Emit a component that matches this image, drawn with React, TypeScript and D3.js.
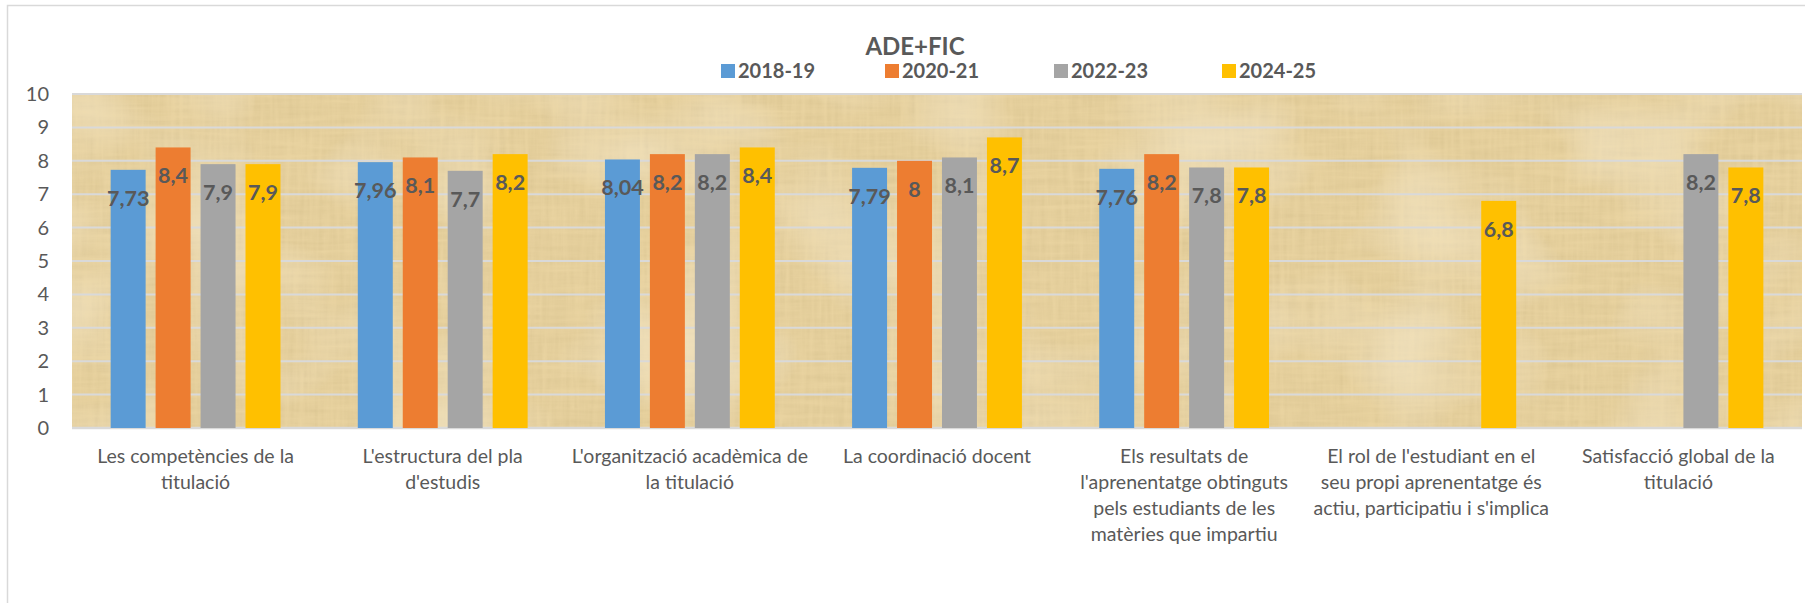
import React, { useRef, useEffect } from 'react';
import * as d3 from 'd3';

const categories = [
  "Les competències de la titulació",
  "L'estructura del pla d'estudis",
  "L'organització acadèmica de la titulació",
  "La coordinació docent",
  "Els resultats de l'aprenentatge obtinguts pels estudiants de les matèries que impartiu",
  "El rol de l'estudiant en el seu propi aprenentatge és actiu, participatiu i s'implica",
  "Satisfacció global de la titulació",
];
// how the labels wrap in the original
const categoryLines = [
  ["Les competències de la", "titulació"],
  ["L'estructura del pla", "d'estudis"],
  ["L'organització acadèmica de", "la titulació"],
  ["La coordinació docent"],
  ["Els resultats de", "l'aprenentatge obtinguts", "pels estudiants de les", "matèries que impartiu"],
  ["El rol de l'estudiant en el", "seu propi aprenentatge és", "actiu, participatiu i s'implica"],
  ["Satisfacció global de la", "titulació"],
];
const seriesNames = ['2018-19', '2020-21', '2022-23', '2024-25'];
const values1819 = [7.73, 7.96, 8.04, 7.79, 7.76, null, null];
const values2021 = [8.4, 8.1, 8.2, 8, 8.2, null, null];
const values2223 = [7.9, 7.7, 8.2, 8.1, 7.8, null, 8.2];
const values2425 = [7.9, 8.2, 8.4, 8.7, 7.8, 6.8, 7.8];
const seriesColors = ['#5B9BD5', '#ED7D31', '#A5A5A5', '#FFC000'];
const yTicks = [0, 1, 2, 3, 4, 5, 6, 7, 8, 9, 10];

const W = 1805;
const H = 603;
const FONT = 'Lato, "Open Sans", sans-serif';
const TXT = '#595959';

const ChartADEFIC = () => {
  const svgRef = useRef<SVGSVGElement>(null);

  useEffect(() => {
    const svg = d3.select(svgRef.current);
    svg.selectAll('*').remove();

    const left = 72, right = 1802, top = 94, bottom = 428;
    const allSeries = [values1819, values2021, values2223, values2425];

    // chart frame
    svg.append('rect')
      .attr('x', 7.5).attr('y', 5.5)
      .attr('width', W).attr('height', H + 20)
      .attr('fill', '#fff')
      .attr('stroke', '#d9d9d9')
      .attr('stroke-width', 1.5);

    // papyrus-ish texture for the plot area
    const defs = svg.append('defs');
    const f = defs.append('filter').attr('id', 'papyrus')
      .attr('x', 0).attr('y', 0).attr('width', 1).attr('height', 1);
    f.append('feTurbulence').attr('type', 'fractalNoise')
      .attr('baseFrequency', '0.2 0.015').attr('numOctaves', 3).attr('seed', 4).attr('result', 'n1');
    f.append('feTurbulence').attr('type', 'fractalNoise')
      .attr('baseFrequency', '0.015 0.2').attr('numOctaves', 3).attr('seed', 9).attr('result', 'n2');
    f.append('feBlend').attr('in', 'n1').attr('in2', 'n2').attr('mode', 'multiply').attr('result', 'n');
    f.append('feColorMatrix').attr('in', 'n').attr('type', 'matrix')
      .attr('values', '0 0 0 0 0.66  0 0 0 0 0.52  0 0 0 0 0.26  1.0 0 0 0 -0.2')
      .attr('result', 'c');
    f.append('feTurbulence').attr('type', 'fractalNoise')
      .attr('baseFrequency', '0.008 0.01').attr('numOctaves', 2).attr('seed', 2).attr('result', 'b');
    f.append('feColorMatrix').attr('in', 'b').attr('type', 'matrix')
      .attr('values', '0 0 0 0 1  0 0 0 0 0.95  0 0 0 0 0.82  0 0 0 -0.8 0.45')
      .attr('result', 'light');
    f.append('feMerge').call(m => {
      m.append('feMergeNode').attr('in', 'c');
      m.append('feMergeNode').attr('in', 'light');
    });

    svg.append('rect')
      .attr('x', left).attr('y', top)
      .attr('width', right - left).attr('height', bottom - top)
      .attr('fill', '#e9d3a0');
    svg.append('rect')
      .attr('x', left).attr('y', top)
      .attr('width', right - left).attr('height', bottom - top)
      .attr('fill', '#e9d3a0')
      .attr('filter', 'url(#papyrus)');

    const x0 = d3.scaleBand<string>().domain(categories).range([left, right]);
    const x1 = d3.scaleBand<string>().domain(seriesNames)
      .range([0, x0.bandwidth()]).paddingInner(0.222).paddingOuter(0.86);
    const y = d3.scaleLinear().domain([0, 10]).range([bottom, top]);

    // gridlines
    svg.append('g').selectAll('line').data(yTicks).join('line')
      .attr('x1', left).attr('x2', right)
      .attr('y1', d => y(d)).attr('y2', d => y(d))
      .attr('stroke', '#d9d9d9')
      .attr('stroke-width', d => d === 0 ? 2.5 : 2);

    // y labels
    svg.append('g').selectAll('text').data(yTicks).join('text')
      .attr('x', 49).attr('y', d => y(d))
      .attr('dy', '0.35em')
      .attr('text-anchor', 'end')
      .style('font-family', FONT).style('font-size', '20px')
      .style('fill', TXT)
      .text(d => d);

    // bars
    seriesNames.forEach((s, si) => {
      const vals = allSeries[si];
      const g = svg.append('g');
      categories.forEach((c, ci) => {
        const v = vals[ci];
        if (v == null) return;
        const bx = (x0(c) as number) + (x1(s) as number);
        g.append('rect')
          .attr('x', bx).attr('y', y(v))
          .attr('width', x1.bandwidth())
          .attr('height', y(0) - y(v))
          .attr('fill', seriesColors[si]);
        g.append('text')
          .attr('x', bx + x1.bandwidth() / 2)
          .attr('y', y(v) + 36)
          .attr('text-anchor', 'middle')
          .style('font-family', FONT).style('font-size', '21.5px')
          .style('font-weight', 'bold')
          .style('fill', TXT)
          .text(String(v).replace('.', ','));
      });
    });

    // category labels
    categories.forEach((c, ci) => {
      const t = svg.append('text')
        .attr('x', (x0(c) as number) + x0.bandwidth() / 2)
        .attr('y', 463)
        .attr('text-anchor', 'middle')
        .style('font-family', FONT).style('font-size', '19.5px')
        .style('fill', TXT);
      categoryLines[ci].forEach((line, li) => {
        t.append('tspan')
          .attr('x', (x0(c) as number) + x0.bandwidth() / 2)
          .attr('dy', li === 0 ? 0 : 26)
          .text(line);
      });
    });

    // title
    svg.append('text')
      .attr('x', 915).attr('y', 55)
      .attr('text-anchor', 'middle')
      .style('font-family', FONT).style('font-size', '24px')
      .style('font-weight', 'bold').style('fill', TXT)
      .text('ADE+FIC');

    // legend
    const legendX = [721, 885, 1054, 1222];
    seriesNames.forEach((s, si) => {
      svg.append('rect')
        .attr('x', legendX[si]).attr('y', 64)
        .attr('width', 14).attr('height', 14)
        .attr('fill', seriesColors[si]);
      svg.append('text')
        .attr('x', legendX[si] + 17).attr('y', 71)
        .attr('dy', '0.36em')
        .style('font-family', FONT).style('font-size', '20px')
        .style('font-weight', 'bold').style('fill', TXT)
        .text(s);
    });
  }, []);

  return (
    <div>
      <svg ref={svgRef} width={W} height={H}
        style={{ position: 'absolute', left: 0, top: 0, background: '#fff' }}></svg>
    </div>
  );
};

export default function App() {
  return <ChartADEFIC />;
}
